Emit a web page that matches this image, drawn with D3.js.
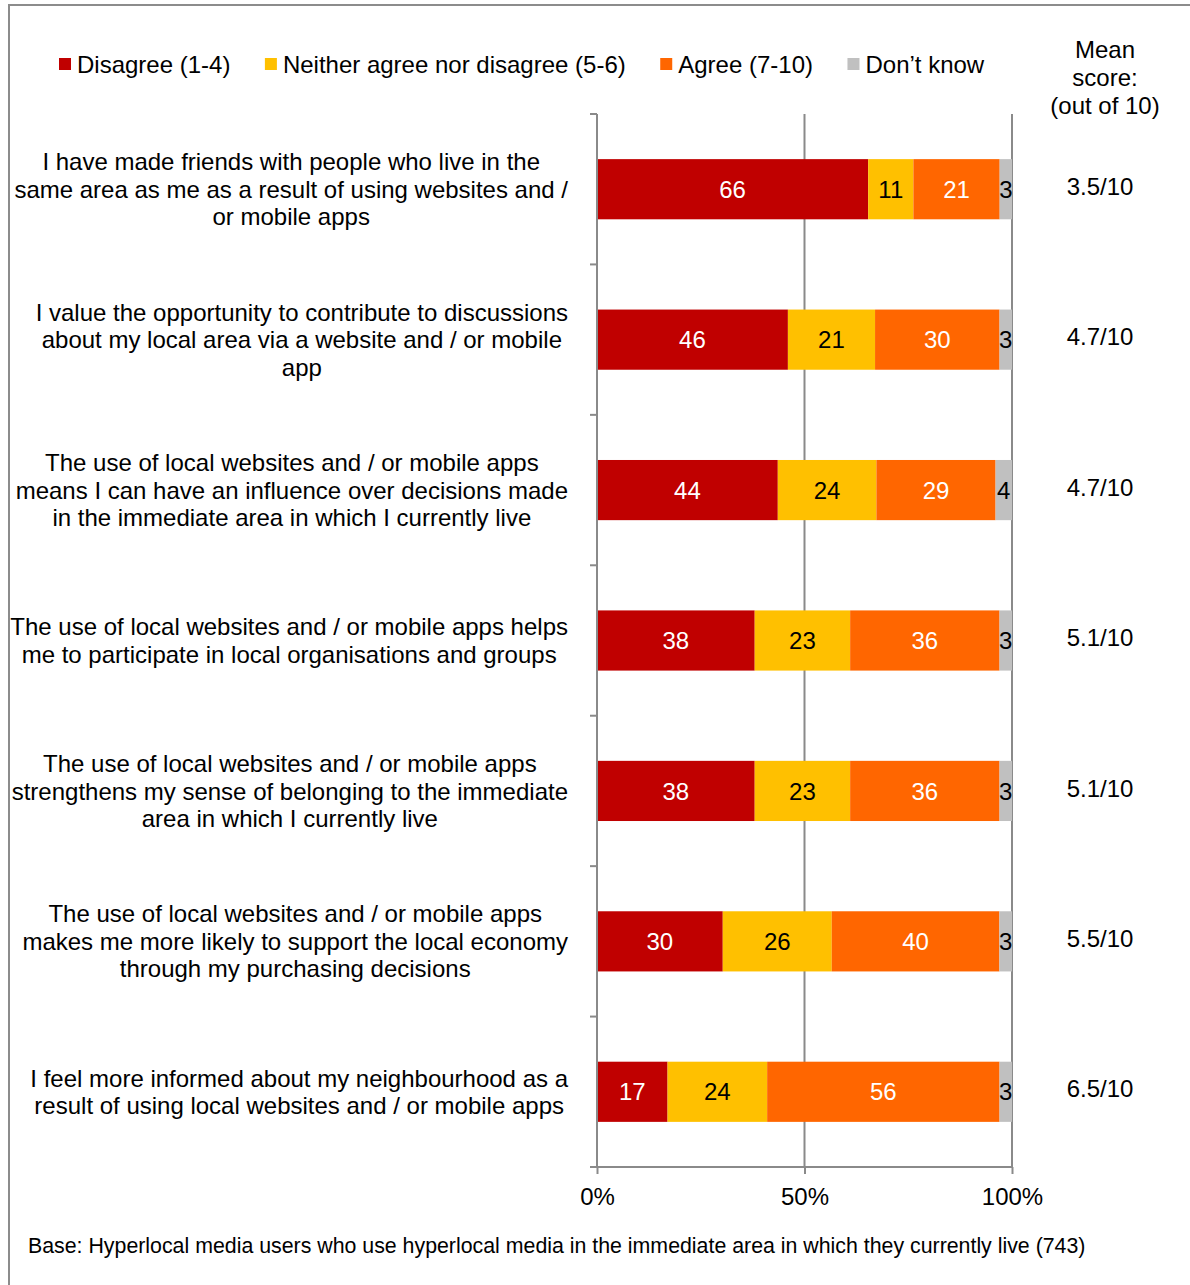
<!DOCTYPE html>
<html>
<head>
<meta charset="utf-8">
<script src="https://cdn.jsdelivr.net/npm/d3@7/dist/d3.min.js"></script>
<style>
  html, body { margin: 0; padding: 0; background: #fff; }
  svg { display: block; font-family: "Liberation Sans", Arial, sans-serif; }
</style>
</head>
<body>
<svg id="chart" width="1190" height="1285"></svg>
<script>
// Statements (each entry is a list of wrapped lines)
const statements = [
  ["I have made friends with people who live in the", "same area as me as a result of using websites and /", "or mobile apps"],
  ["I value the opportunity to contribute to discussions", "about my local area via a website and / or mobile", "app"],
  ["The use of local websites and / or mobile apps", "means I can have an influence over decisions made", "in the immediate area in which I currently live"],
  ["The use of local websites and / or mobile apps helps", "me to participate in local organisations and groups"],
  ["The use of local websites and / or mobile apps", "strengthens my sense of belonging to the immediate", "area in which I currently live"],
  ["The use of local websites and / or mobile apps", "makes me more likely to support the local economy", "through my purchasing decisions"],
  ["I feel more informed about my neighbourhood as a", "result of using local websites and / or mobile apps"]
];

const seriesNames = ["Disagree (1-4)", "Neither agree nor disagree (5-6)", "Agree (7-10)", "Don\u2019t know"];
const disagree = [66, 46, 44, 38, 38, 30, 17];
const neither  = [11, 21, 24, 23, 23, 26, 24];
const agree    = [21, 30, 29, 36, 36, 40, 56];
const dontKnow = [3, 3, 4, 3, 3, 3, 3];
const meanScores = ["3.5/10", "4.7/10", "4.7/10", "5.1/10", "5.1/10", "5.5/10", "6.5/10"];
const xTicks = [0, 50, 100];

const colors = ["#C00000", "#FFC000", "#FF6600", "#C0C0C0"];
const labelColors = ["#ffffff", "#000000", "#ffffff", "#000000"];

const svg = d3.select("#chart");
const FS = 24;
const axisGrey = "#8a8a8a";

// outer frame
svg.append("path")
  .attr("d", "M9,1285 L9,5 L1190,5")
  .attr("fill", "none").attr("stroke", "#8c8c8c").attr("stroke-width", 2);

// scales
const x = d3.scaleLinear().domain([0, 100]).range([597, 1012]);
const y = d3.scaleBand().domain(d3.range(statements.length)).range([114, 1167]).paddingInner(0.6).paddingOuter(0.3);
const yb = d3.scaleBand().domain(d3.range(statements.length)).range([114, 1167]);

// gridlines
svg.append("g").selectAll("line").data(xTicks.filter(t => t > 0)).join("line")
  .attr("x1", d => x(d)).attr("x2", d => x(d))
  .attr("y1", 114).attr("y2", 1167)
  .attr("stroke", axisGrey).attr("stroke-width", 2);

// stacked, normalised rows
const rows = statements.map((s, i) => {
  const vals = [disagree[i], neither[i], agree[i], dontKnow[i]];
  const total = d3.sum(vals);
  let acc = 0;
  return vals.map((v, k) => {
    const seg = { row: i, k, v, x0: acc / total * 100, x1: (acc + v) / total * 100 };
    acc += v;
    return seg;
  });
});
const segs = rows.flat();

const bars = svg.append("g");
bars.selectAll("rect").data(segs).join("rect")
  .attr("x", d => x(d.x0))
  .attr("width", d => x(d.x1) - x(d.x0))
  .attr("y", d => y(d.row))
  .attr("height", y.bandwidth())
  .attr("fill", d => colors[d.k]);

bars.selectAll("text").data(segs).join("text")
  .attr("x", d => (x(d.x0) + x(d.x1)) / 2)
  .attr("y", d => y(d.row) + y.bandwidth() / 2)
  .attr("dy", "0.36em")
  .attr("text-anchor", "middle")
  .attr("font-size", FS)
  .attr("fill", d => labelColors[d.k])
  .text(d => d.v);

// left axis with category ticks
const yAxis = svg.append("g");
yAxis.append("line").attr("x1", 597).attr("x2", 597).attr("y1", 114).attr("y2", 1167)
  .attr("stroke", axisGrey).attr("stroke-width", 2);
yAxis.selectAll("line.tk").data(d3.range(statements.length + 1)).join("line")
  .attr("class", "tk")
  .attr("x1", 590).attr("x2", 597)
  .attr("y1", d => d < statements.length ? yb(d) : 1167)
  .attr("y2", d => d < statements.length ? yb(d) : 1167)
  .attr("stroke", axisGrey).attr("stroke-width", 2);

// bottom axis
const xAxisG = svg.append("g").attr("transform", "translate(0,1167)")
  .call(d3.axisBottom(x).tickValues(xTicks).tickSize(7).tickFormat(d => d + "%"));
xAxisG.select(".domain").attr("stroke", axisGrey).attr("stroke-width", 2)
  .attr("d", `M590,0H${x(100)}`);
xAxisG.selectAll(".tick line").attr("stroke", axisGrey).attr("stroke-width", 2);
xAxisG.selectAll(".tick text")
  .attr("font-family", "Liberation Sans, Arial, sans-serif")
  .attr("font-size", FS).attr("fill", "#000").attr("y", 21).attr("dy", "0.71em");

// category labels: wrapped block, right edge near the axis, each line centred in the block
const LH = 27.5;
const catG = svg.append("g");
statements.forEach((lines, i) => {
  const cy = y(i) + y.bandwidth() / 2;
  const t = catG.append("text").attr("font-size", FS).attr("text-anchor", "middle").attr("fill", "#000");
  const spans = lines.map((ln, j) =>
    t.append("tspan").attr("y", cy + (j - (lines.length - 1) / 2) * LH).attr("dy", "0.36em").text(ln));
  const maxW = d3.max(spans, s => s.node().getComputedTextLength());
  const cx = 568 - maxW / 2;
  spans.forEach(s => s.attr("x", cx));
});

// mean score column
const meanG = svg.append("g").attr("font-size", FS).attr("text-anchor", "middle");
["Mean", "score:", "(out of 10)"].forEach((t, j) =>
  meanG.append("text").attr("x", 1105).attr("y", 49 + j * 28).attr("dy", "0.36em").text(t));
meanG.selectAll("text.m").data(meanScores).join("text")
  .attr("class", "m")
  .attr("x", 1100)
  .attr("y", (d, i) => y(i) + y.bandwidth() / 2 - 3)
  .attr("dy", "0.36em")
  .text(d => d);

// legend
const legend = svg.append("g").attr("font-size", FS);
let lx = 59;
seriesNames.forEach((name, k) => {
  legend.append("rect").attr("x", lx).attr("y", 58).attr("width", 12).attr("height", 12).attr("fill", colors[k]);
  const t = legend.append("text").attr("x", lx + 18).attr("y", 64).attr("dy", "0.36em").text(name);
  lx += 18 + t.node().getComputedTextLength() + 34.5;
});

// base note
svg.append("text").attr("x", 28).attr("y", 1245).attr("dy", "0.36em")
  .attr("font-size", 21.33).attr("fill", "#000")
  .text("Base: Hyperlocal media users who use hyperlocal media in the immediate area in which they currently live (743)");
</script>
</body>
</html>
